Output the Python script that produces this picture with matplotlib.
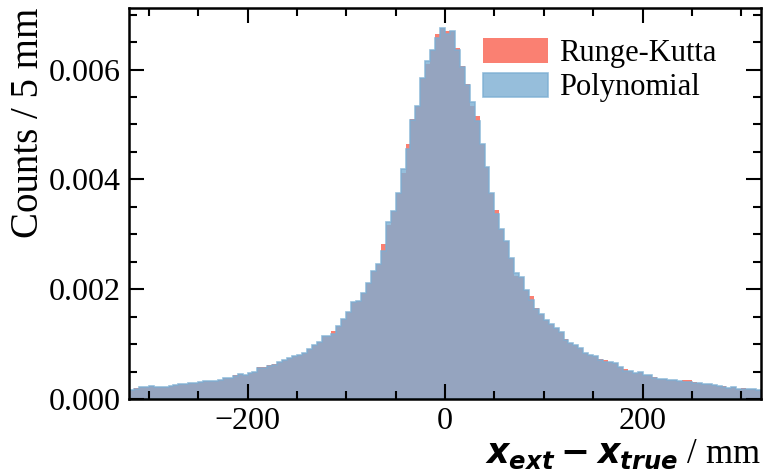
import numpy as np
import matplotlib
matplotlib.use("Agg")
import matplotlib.pyplot as plt
from matplotlib.ticker import MultipleLocator

# Histogram binning: 5 mm bins from -320 mm to 320 mm
bin_lo = -320
bin_hi = 320
bin_width = 5

# Normalised residual distributions (counts / 5 mm)
runge_kutta = [
    0.000170, 0.000195, 0.000212, 0.000224, 0.000230, 0.000212, 0.000224, 0.000224,
    0.000230, 0.000261, 0.000273, 0.000279, 0.000297, 0.000291, 0.000309, 0.000333,
    0.000333, 0.000333, 0.000352, 0.000385, 0.000388, 0.000430, 0.000461, 0.000436,
    0.000478, 0.000491, 0.000580, 0.000585, 0.000612, 0.000636, 0.000667, 0.000715,
    0.000739, 0.000775,
    0.00080, 0.00084, 0.000903, 0.000976, 0.00104, 0.001145, 0.00115, 0.00124,
    0.001327, 0.00146, 0.00159, 0.00176, 0.00178, 0.00193, 0.00211, 0.00233,
    0.00245, 0.00282, 0.00317, 0.00342, 0.00376, 0.00411, 0.00465, 0.00509,
    0.00533, 0.00584, 0.00610, 0.00636, 0.00665, 0.00675,
    0.00670, 0.00671, 0.00640, 0.00607, 0.00573, 0.00533, 0.00516, 0.00464,
    0.00422, 0.00376, 0.00345, 0.00310, 0.00287, 0.00257, 0.00224, 0.00222,
    0.00198, 0.00187, 0.00165, 0.00155, 0.00143, 0.00136, 0.00130, 0.00122,
    0.00109, 0.00102, 0.00098, 0.00092, 0.00084, 0.00081, 0.00078,
    0.000727, 0.000703, 0.000673, 0.00066, 0.000576, 0.000545, 0.000518, 0.000479,
    0.000491, 0.000445, 0.000440, 0.000397, 0.00037, 0.000358, 0.000345, 0.000339,
    0.000327, 0.000339, 0.000339, 0.00031, 0.000297, 0.000279, 0.000267, 0.000248,
    0.000242, 0.000236, 0.000206, 0.000218, 0.000182, 0.000195, 0.000188, 0.000188,
    0.00017,
]

polynomial = [
    0.000170, 0.000188, 0.000212, 0.000224, 0.000230, 0.000212, 0.000224, 0.000224,
    0.000230, 0.000261, 0.000273, 0.000279, 0.000285, 0.000291, 0.000309, 0.000333,
    0.000333, 0.000333, 0.000352, 0.000376, 0.000388, 0.000412, 0.000461, 0.000436,
    0.000467, 0.000491, 0.000564, 0.000570, 0.000594, 0.000624, 0.000667, 0.000715,
    0.000739, 0.000775,
    0.00080, 0.00084, 0.000903, 0.000976, 0.00104, 0.001145, 0.00115, 0.001176,
    0.001327, 0.00146, 0.00158, 0.00176, 0.00178, 0.00193, 0.00211, 0.00233,
    0.00245, 0.00270, 0.00322, 0.00342, 0.00376, 0.00419, 0.00455, 0.00508,
    0.00533, 0.00584, 0.00616, 0.00636, 0.00658, 0.00675,
    0.00664, 0.00671, 0.00635, 0.00604, 0.00572, 0.00540, 0.00507, 0.00464,
    0.00422, 0.00376, 0.00337, 0.00310, 0.00287, 0.00257, 0.00230, 0.00222,
    0.00198, 0.00181, 0.00163, 0.00154, 0.00143, 0.00136, 0.00130, 0.00122,
    0.00108, 0.00102, 0.00098, 0.00092, 0.00084, 0.00081, 0.00078,
    0.000709, 0.000673, 0.000673, 0.00066, 0.000576, 0.000509, 0.000518, 0.000479,
    0.000491, 0.000440, 0.000430, 0.000376, 0.00037, 0.000358, 0.000345, 0.000339,
    0.000327, 0.000309, 0.000315, 0.000297, 0.000297, 0.000279, 0.000267, 0.000248,
    0.000242, 0.000218, 0.000206, 0.000218, 0.000182, 0.00019, 0.000188, 0.000188,
    0.00017,
]

series_labels = ["Runge-Kutta", "Polynomial"]
x_ticks = [-200, 0, 200]
y_ticks = [0.000, 0.002, 0.004, 0.006]

edges = np.arange(bin_lo, bin_hi + bin_width, bin_width)
centers = 0.5 * (edges[:-1] + edges[1:])

plt.rcParams["font.family"] = ["Liberation Serif", "DejaVu Serif"]
plt.rcParams["mathtext.fontset"] = "custom"
plt.rcParams["mathtext.it"] = "DejaVu Sans:italic:bold"
plt.rcParams["mathtext.rm"] = "DejaVu Sans:bold"
plt.rcParams["mathtext.bf"] = "DejaVu Sans:bold"

fig = plt.figure(figsize=(7.63, 4.73), dpi=100)
ax = fig.add_axes([129 / 763, 74 / 473, (761 - 129) / 763, (399 - 8) / 473])

rk_color = "#fa8072"
poly_color = (124 / 255, 174 / 255, 211 / 255)

ax.hist(centers, bins=edges, weights=runge_kutta, histtype="stepfilled",
        color=rk_color, label=series_labels[0])
ax.hist(centers, bins=edges, weights=polynomial, histtype="stepfilled",
        facecolor=poly_color, edgecolor=poly_color, linewidth=1.2, alpha=0.8,
        label=series_labels[1])

ax.set_xlim(bin_lo, bin_hi)
ax.set_ylim(0, 0.00712)
ax.set_xticks(x_ticks)
ax.set_xticklabels(["\u2212200", "0", "200"])
ax.set_yticks(y_ticks)
ax.set_yticklabels([f"{v:.3f}" for v in y_ticks])
ax.xaxis.set_minor_locator(MultipleLocator(50))
ax.yaxis.set_minor_locator(MultipleLocator(0.0005))

ax.tick_params(which="both", direction="in", top=True, right=True,
               labelsize=23, width=1.5, pad=6)
ax.tick_params(which="major", length=11)
ax.tick_params(which="minor", length=5.5)
for sp in ax.spines.values():
    sp.set_linewidth(1.8)

ax.set_ylabel("Counts / 5 mm", fontsize=28, loc="top", labelpad=1)
ax.set_xlabel(r"$x_{ext} - x_{true}$ / mm", fontsize=25, loc="right", labelpad=1)

ax.legend(loc="upper right", frameon=False, fontsize=22,
          handlelength=2.15, handleheight=0.85, handletextpad=0.35,
          labelspacing=0.15, borderaxespad=0.4, bbox_to_anchor=(0.968, 0.985))

fig.savefig("out.png", dpi=100)
